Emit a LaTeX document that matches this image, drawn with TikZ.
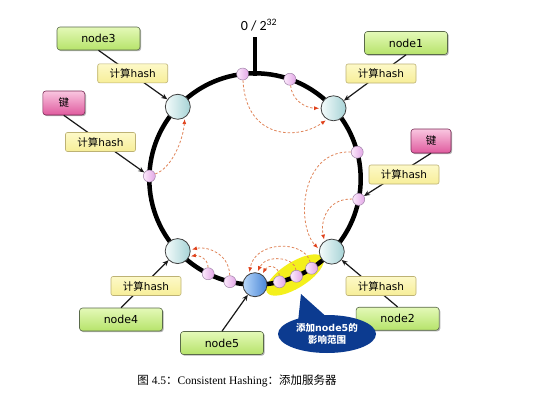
\documentclass[tikz,border=0pt]{standalone}
\usepackage{fontspec}
\setmainfont{DejaVu Sans}
\newfontfamily\cjk{Noto Sans CJK SC}
\newfontfamily\capfont{Liberation Serif}
\newfontfamily\topfont{Carlito}
\usetikzlibrary{arrows.meta,shapes.geometric,shadows}
\definecolor{gtop}{HTML}{E4F9B8}
\definecolor{gbot}{HTML}{B6E36A}
\definecolor{gdraw}{HTML}{5A6A4A}
\definecolor{htop}{HTML}{FDF9C8}
\definecolor{hbot}{HTML}{F7EE98}
\definecolor{hdraw}{HTML}{BDB274}
\definecolor{ktop}{HTML}{F9C6E0}
\definecolor{kbot}{HTML}{E05A9E}
\definecolor{kdraw}{HTML}{7A2A55}
\definecolor{sleft}{HTML}{F4FBFB}
\definecolor{sright}{HTML}{A6D3D6}
\definecolor{bleft}{HTML}{B8D8FB}
\definecolor{bright}{HTML}{4A86D6}
\definecolor{pleft}{HTML}{FCEAFC}
\definecolor{pright}{HTML}{E2A6E6}
\definecolor{pdraw}{HTML}{A084A8}
\definecolor{hopcol}{HTML}{E08458}
\definecolor{hoptip}{HTML}{E0421C}
\definecolor{hilite}{HTML}{F4F01C}
\definecolor{bubble}{HTML}{0C3B90}
\begin{document}
\begin{tikzpicture}[x=1pt,y=-1pt,
  boxshadow/.style={drop shadow={shadow xshift=1.2pt,shadow yshift=-1.2pt,opacity=0.3,fill=black}},
  greenbox/.style={draw=gdraw,line width=0.6pt,rounded corners=3pt,top color=gtop,bottom color=gbot,
    minimum width=83pt,minimum height=23pt,inner sep=0pt,font=\fontsize{11}{12}\selectfont,boxshadow},
  hashbox/.style={draw=hdraw,line width=0.6pt,rounded corners=2pt,top color=htop,bottom color=hbot,
    minimum width=70pt,minimum height=19pt,inner sep=0pt,font=\fontsize{10.5}{12}\selectfont},
  keybox/.style={draw=kdraw,line width=0.6pt,rounded corners=3pt,top color=ktop,bottom color=kbot,
    minimum width=42pt,minimum height=24pt,inner sep=0pt,font=\cjk\fontsize{10.5}{12}\selectfont,boxshadow},
  server/.style={circle,draw=black!75,line width=0.8pt,left color=sleft,right color=sright,
    minimum size=25pt,inner sep=0pt},
  newserver/.style={circle,draw=black!75,line width=0.8pt,left color=bleft,right color=bright,
    minimum size=24pt,inner sep=0pt},
  keydot/.style={circle,draw=pdraw,line width=0.5pt,left color=pleft,right color=pright,
    minimum size=12pt,inner sep=0pt},
  conn/.style={line width=1.2pt,black!90,-{Stealth[length=6pt,width=5pt]}},
  hop/.style={draw=hopcol,line width=0.8pt,dash pattern=on 2.5pt off 2pt,
    -{Latex[length=5pt,width=4pt,color=hoptip]},shorten >=1.5pt}
]
\useasboundingbox (0,0) rectangle (558,405);
\fill[white] (0,0) rectangle (558,405);

% highlight of the range affected by node5
\node[ellipse,fill=hilite,minimum width=66pt,minimum height=26pt,inner sep=0pt,rotate=32] (hl) at (295,275) {};

% ring and zero mark
\draw[line width=4.5pt] (255,179) circle[radius=105.7pt];
\draw[line width=3.2pt] (255,37) -- (255,76);
\node[font=\topfont\fontsize{14}{16}\selectfont] (zero) at (259,25) {0 / 2\textsuperscript{32}};

% servers on the ring
\node[server] (n3) at ({255+105.7*cos(136.9)},{179-105.7*sin(136.9)}) {};
\node[server] (n1) at ({255+105.7*cos(42)},{179-105.7*sin(42)}) {};
\node[server] (n4) at ({255+105.7*cos(223)},{179-105.7*sin(223)}) {};
\node[server] (n2) at ({255+105.7*cos(316.6)},{179-105.7*sin(316.6)}) {};
\node[newserver] (n5) at (255,284.7) {};

% keys on the ring
\node[keydot] (p1) at ({255+105.7*cos(96.7)},{179-105.7*sin(96.7)}) {};
\node[keydot] (p2) at ({255+105.7*cos(70.7)},{179-105.7*sin(70.7)}) {};
\node[keydot] (p3) at ({255+105.7*cos(14.7)},{179-105.7*sin(14.7)}) {};
\node[keydot] (p4) at ({255+105.7*cos(-11.1)},{179-105.7*sin(-11.1)}) {};
\node[keydot] (p5) at ({255+105.7*cos(178.4)},{179-105.7*sin(178.4)}) {};
\node[keydot] (p6) at ({255+105.7*cos(243.7)},{179-105.7*sin(243.7)}) {};
\node[keydot] (p7) at ({255+105.7*cos(256.3)},{179-105.7*sin(256.3)}) {};
\node[keydot] (p8) at ({255+105.7*cos(283.4)},{179-105.7*sin(283.4)}) {};
\node[keydot] (p9) at ({255+105.7*cos(293.1)},{179-105.7*sin(293.1)}) {};
\node[keydot] (p10) at ({255+105.7*cos(302.4)},{179-105.7*sin(302.4)}) {};

% key -> server mappings
\draw[hop] (p1) .. controls (246,140) and (298,140) .. (n1.240);
\draw[hop] (p2) .. controls (292,100) and (305,108) .. (n1.180);
\draw[hop] (p5) .. controls (172,168) and (183,140) .. (n3.-57);
\draw[hop] (p3) .. controls (300,150) and (296,225) .. (n2.170);
\draw[hop] (p4) .. controls (328,198) and (320,220) .. (n2.125);
\draw[hop] (p6) .. controls (208,258) and (198,255) .. (n4.-25);
\draw[hop] (p7) .. controls (229,252) and (205,246) .. (n4.5);
\draw[hop] (p8) .. controls (279,266) and (268,264) .. (n5.55);
\draw[hop] (p9) .. controls (295,257) and (266,254) .. (n5.80);
\draw[hop] (p10) .. controls (305,240) and (255,240) .. (n5.118);

% outside boxes
\node[greenbox] (n3box) at (98.5,38.5) {node3};
\node[greenbox] (n1box) at (406,43) {node1};
\node[greenbox] (n4box) at (121,319.5) {node4};
\node[greenbox] (n5box) at (222,343) {node5};
\node[greenbox] (n2box) at (397.6,318.7) {node2};
\node[keybox] (k1) at (63.8,103) {键};
\node[keybox,minimum width=40pt] (k2) at (431,141) {键};

\draw[conn] (n3box.south) -- (n3);
\draw[conn] (n1box.south) -- (n1);
\draw[conn] (k1.south) -- (p5);
\draw[conn] (k2.south) -- (p4);
\draw[conn] (n4box.north) -- (n4);
\draw[conn] (n5box.north) -- (n5);
\draw[conn] (n2box.north) -- (n2);

\node[hashbox] (h3) at (132.7,73.3) {{\cjk 计算}hash};
\node[hashbox] (hk1) at (100.5,142) {{\cjk 计算}hash};
\node[hashbox] (h1) at (381,73.5) {{\cjk 计算}hash};
\node[hashbox] (hk2) at (404,174.5) {{\cjk 计算}hash};
\node[hashbox] (h4) at (146,286) {{\cjk 计算}hash};
\node[hashbox] (h2) at (381,286) {{\cjk 计算}hash};

% callout
\fill[bubble] (301,294) -- (298,322) -- (330,320) -- cycle;
\node[ellipse,fill=bubble,minimum width=98pt,minimum height=38pt,inner sep=0pt,
  text=white,font=\bfseries\fontsize{9.5}{12.5}\selectfont,align=center] (bub) at (327,334)
  {{\cjk\bfseries 添加}node5{\cjk\bfseries 的}\\{\cjk\bfseries 影响范围}};

% caption
\node[font=\capfont\fontsize{11.5}{13}\selectfont] (cap) at (237,381)
  {{\cjk 图} 4.5{\cjk ：}Consistent Hashing{\cjk ：添加服务器}};
\end{tikzpicture}
\end{document}
